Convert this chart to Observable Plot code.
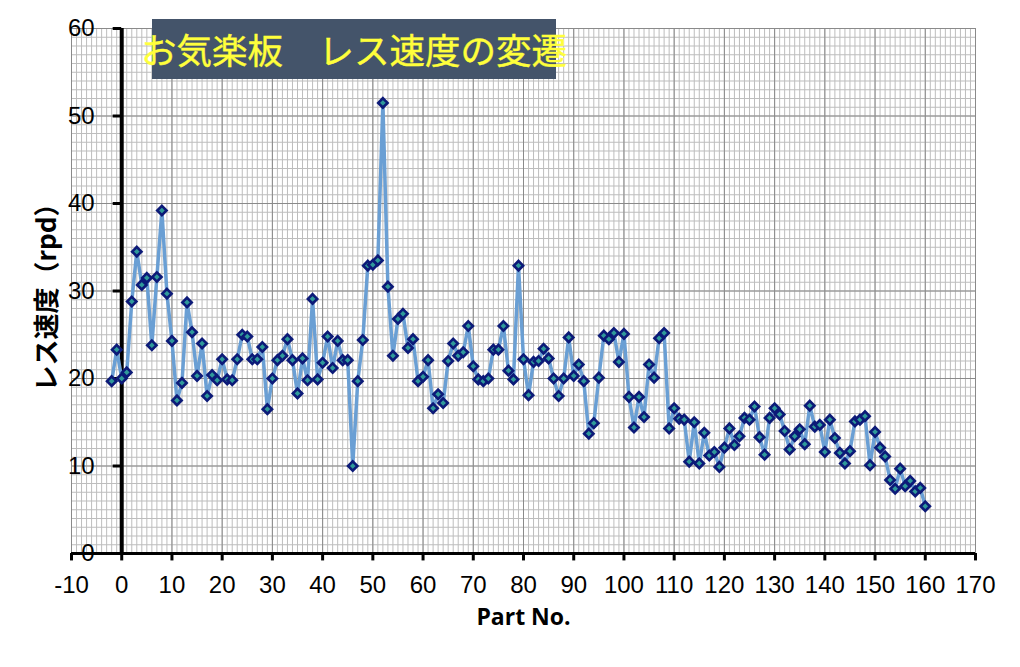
<!DOCTYPE html>
<html>
<head>
<meta charset="utf-8">
<script src="https://cdn.jsdelivr.net/npm/d3@7"></script>
<script src="https://cdn.jsdelivr.net/npm/@observablehq/plot@0.6"></script>
<style>
  body { margin: 0; background: #fff; }
  #wrap { position: relative; width: 1020px; height: 667px; }
  #title {
    position: absolute; left: 152px; top: 19px; width: 404px; height: 60px;
    background: #44546a; color: #ffff3b;
    font-family: "Noto Sans CJK JP", sans-serif; font-size: 35.5px; line-height: 60px;
    white-space: pre; display: flex; justify-content: center; overflow: visible;
    -webkit-text-stroke: 0.4px #ffff3b;
  }
</style>
</head>
<body>
<div id="wrap"><div id="title">お気楽板　レス速度の変遷</div></div>
<script>
// Part numbers (x) and thread speed in rpd (y)
const partNo = [
  -2, -1, 0, 1, 2, 3, 4, 5, 6, 7, 8, 9,
  10, 11, 12, 13, 14, 15, 16, 17, 18, 19,
  20, 21, 22, 23, 24, 25, 26, 27, 28, 29,
  30, 31, 32, 33, 34, 35, 36, 37, 38, 39,
  40, 41, 42, 43, 44, 45, 46, 47, 48, 49,
  50, 51, 52, 53, 54, 55, 56, 57, 58, 59,
  60, 61, 62, 63, 64, 65, 66, 67, 68, 69,
  70, 71, 72, 73, 74, 75, 76, 77, 78, 79,
  80, 81, 82, 83, 84, 85, 86, 87, 88, 89,
  90, 91, 92, 93, 94, 95, 96, 97, 98, 99,
  100, 101, 102, 103, 104, 105, 106, 107, 108, 109,
  110, 111, 112, 113, 114, 115, 116, 117, 118, 119,
  120, 121, 122, 123, 124, 125, 126, 127, 128, 129,
  130, 131, 132, 133, 134, 135, 136, 137, 138, 139,
  140, 141, 142, 143, 144, 145, 146, 147, 148, 149,
  150, 151, 152, 153, 154, 155, 156, 157, 158, 159,
  160
];
const speed = [
  19.7, 23.3, 20.0, 20.7, 28.8, 34.5, 30.7, 31.5, 23.8, 31.6, 39.2, 29.7,
  24.3, 17.5, 19.5, 28.7, 25.3, 20.3, 24.0, 18.0, 20.4, 19.8,
  22.2, 19.9, 19.8, 22.2, 25.0, 24.8, 22.2, 22.2, 23.6, 16.5,
  20.0, 22.1, 22.6, 24.5, 22.1, 18.3, 22.3, 19.8, 29.1, 19.9,
  21.8, 24.8, 21.2, 24.3, 22.1, 22.1, 10.0, 19.7, 24.4, 32.9,
  33.0, 33.5, 51.5, 30.5, 22.6, 26.8, 27.4, 23.5, 24.5, 19.7,
  20.2, 22.1, 16.6, 18.2, 17.2, 22.0, 24.0, 22.6, 23.0, 26.0,
  21.4, 19.9, 19.7, 20.0, 23.3, 23.3, 26.0, 20.9, 19.9, 32.9,
  22.2, 18.1, 21.9, 22.0, 23.4, 22.3, 20.0, 18.0, 20.0, 24.7,
  20.3, 21.6, 19.7, 13.7, 14.9, 20.1, 24.9, 24.5, 25.2, 21.9,
  25.1, 17.9, 14.4, 17.9, 15.6, 21.6, 20.1, 24.6, 25.2, 14.3,
  16.6, 15.4, 15.3, 10.5, 15.0, 10.3, 13.8, 11.2, 11.6, 9.9,
  12.1, 14.3, 12.4, 13.4, 15.5, 15.3, 16.8, 13.3, 11.3, 15.5,
  16.6, 15.9, 14.0, 11.9, 13.4, 14.2, 12.5, 16.9, 14.5, 14.7,
  11.6, 15.3, 13.2, 11.5, 10.3, 11.7, 15.1, 15.3, 15.7, 10.1,
  13.9, 12.1, 11.1, 8.4, 7.4, 9.7, 7.7, 8.3, 7.1, 7.5,
  5.4
];
const xTickLabels = [-10, 0, 10, 20, 30, 40, 50, 60, 70, 80, 90, 100, 110, 120, 130, 140, 150, 160, 170];
const yTickLabels = [0, 10, 20, 30, 40, 50, 60];
const xTitle = "Part No.";
const yTitle = "レス速度（rpd）";

const data = partNo.map((p, i) => ({part: p, speed: speed[i]}));
const xMinor = d3.range(-10, 171, 1);
const yMinor = d3.range(0, 61, 1);

const tickFont = '"Liberation Sans", Arial, sans-serif';

const chart = Plot.plot({
  width: 1020,
  height: 667,
  marginLeft: 71,
  marginRight: 45,
  marginTop: 28,
  marginBottom: 114,
  x: {domain: [-10, 170], axis: null},
  y: {domain: [0, 60], axis: null},
  style: {background: "transparent", overflow: "visible"},
  marks: [
    Plot.ruleX(xMinor, {x: d => d, stroke: "#bdbdbd", strokeWidth: 1}),
    Plot.ruleY(yMinor, {y: d => d, stroke: "#bdbdbd", strokeWidth: 1}),
    Plot.ruleX(xTickLabels, {x: d => d, stroke: "#8a8a8a", strokeWidth: 1}),
    Plot.ruleY(yTickLabels, {y: d => d, stroke: "#8a8a8a", strokeWidth: 1}),
    // x axis line at y=0 and ticks
    Plot.ruleY([0], {y: d => d, x1: -10, x2: 170, stroke: "#000", strokeWidth: 3}),
    Plot.ruleX(xTickLabels, {x: d => d, y1: 0, y2: -0.85, stroke: "#000", strokeWidth: 3}),
    // y axis line at x=0 and ticks
    Plot.ruleX([0], {x: d => d, y1: 0, y2: 60, stroke: "#000", strokeWidth: 4}),
    Plot.ruleY(yTickLabels, {y: d => d, x1: -1.7, x2: 0, stroke: "#000", strokeWidth: 3}),
    Plot.text(xTickLabels, {x: d => d, y: 0, dy: 32, text: d => String(d), fontSize: 24, fontFamily: tickFont, fill: "#000"}),
    Plot.text(yTickLabels, {x: 0, y: d => d, dx: -27, text: d => String(d), textAnchor: "end", fontSize: 24, fontFamily: tickFont, fill: "#000"}),
    Plot.text([xTitle], {frameAnchor: "bottom", dy: 71, text: d => d, fontSize: 23, fontWeight: "bold", fontFamily: '"Open Sans", sans-serif', fill: "#000"}),
    Plot.text([yTitle], {frameAnchor: "left", textAnchor: "middle", dx: -24, rotate: -90, text: d => d, fontSize: 26, fontWeight: "bold", fontFamily: '"Noto Sans CJK JP", sans-serif', fill: "#000"}),
    Plot.line(data, {x: "part", y: "speed", stroke: "#6a9fd4", strokeWidth: 3.5}),
    Plot.dot(data, {x: "part", y: "speed", symbol: "diamond2", r: 4.2, fill: "#2f9a9a", stroke: "#0c1a78", strokeWidth: 2.6})
  ]
});
const wrap = document.getElementById("wrap");
wrap.insertBefore(chart, wrap.firstChild);
</script>
</body>
</html>
